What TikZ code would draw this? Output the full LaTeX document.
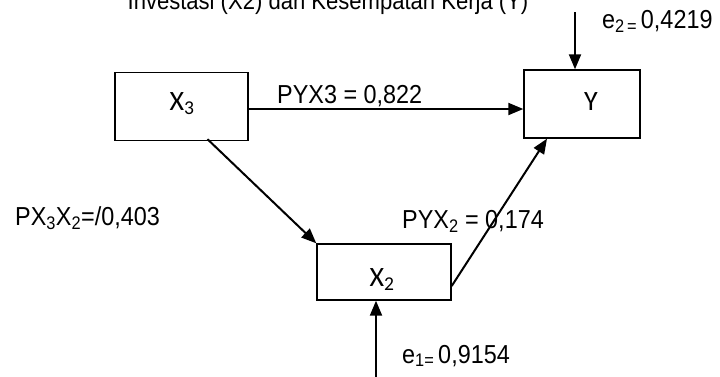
\documentclass[tikz,border=0pt]{standalone}
\usepackage{fontspec}
\setmainfont{Liberation Sans}
\newfontfamily\boxfont{Carlito}
\newcommand\narrowtxt[1]{\scalebox{0.9}[1]{#1}}
\usetikzlibrary{arrows.meta}
\tikzset{
  box/.style={draw, line width=1.4pt, minimum width=#1, inner sep=0pt},
  arr/.style={line width=2pt, -{Triangle[length=15pt,width=12pt]}},
  lbl/.style={anchor=base west, inner sep=0pt, font=\fontsize{26}{28}\selectfont},
  boxlbl/.style={anchor=base, inner sep=0pt, font=\boxfont\fontsize{28}{30}\selectfont},
}
\begin{document}
\begin{tikzpicture}[x=1pt,y=-1pt]
\useasboundingbox (0,0) rectangle (720,376);
% title (cut off at top)
\node[anchor=base, inner sep=0pt, font=\fontsize{24.5}{26}\selectfont] (title) at (328,9) {\narrowtxt{Investasi (X2) dan Kesempatan Kerja (Y)}};
% boxes
\node[box=133pt, minimum height=68pt] (X3) at (181.5,106.5) {};
\node[box=116pt, minimum height=68pt] (Y) at (582,104) {};
\node[box=134pt, minimum height=56pt] (X2) at (384,272) {};
\node[boxlbl] (X3l) at (182,110) {X\textsubscript{3}};
\node[boxlbl] (Yl) at (591,110) {Y};
\node[boxlbl] (X2l) at (382,286) {X\textsubscript{2}};
% coordinates of free ends
\coordinate (e2top) at (575,12);
\coordinate (e1bot) at (376,380);
% connectors
\draw[arr] (X3.east |- 0,109) -- (Y.west |- 0,109);
\draw[arr] ([xshift=26pt,yshift=2pt]X3.south) -- (X2.north west);
\draw[arr] ([yshift=-14pt]X2.east) -- ([xshift=-35pt]Y.south);
\draw[arr] (e2top) -- (e2top |- Y.north);
\draw[arr] (e1bot) -- (e1bot |- X2.south);
% labels
\node[lbl] (l1) at (277,103) {\narrowtxt{PYX3 = 0,822}};
\node[lbl] (l2) at (15,225) {\narrowtxt{PX\textsubscript{3}X\textsubscript{2}=/0,403}};
\node[lbl] (l3) at (402,228) {\narrowtxt{PYX\textsubscript{2} = 0,174}};
\node[lbl] (l4) at (602,28) {\narrowtxt{e\textsubscript{2\,=}\,0,4219}};
\node[lbl] (l5) at (402,363) {\narrowtxt{e\textsubscript{1=}\,0,9154}};
\end{tikzpicture}
\end{document}
